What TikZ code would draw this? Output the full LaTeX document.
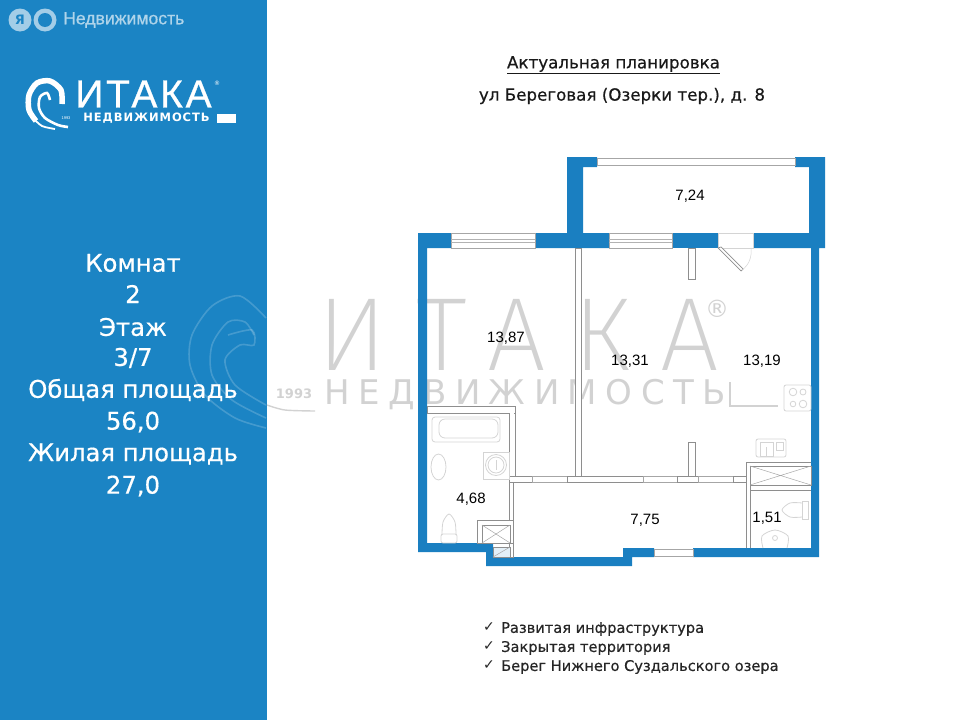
\documentclass[tikz,border=0pt]{standalone}
\usepackage{fontspec}
\setmainfont{DejaVu Sans}
\newfontfamily\numfont{Liberation Sans}
\newfontfamily\wmfont{Fira Sans ExtraLight}
\newfontfamily\headfont[FakeBold=0.5]{DejaVu Sans}
\newfontfamily\logofont[FakeBold=0.7]{Liberation Sans}
\definecolor{panelblue}{HTML}{1B84C4}
\definecolor{wallblue}{HTML}{1A7FC1}
\definecolor{partgray}{HTML}{8E8E8E}
\definecolor{fixgray}{HTML}{D4D4D4}
\definecolor{wmgray}{HTML}{D2D2D2}
\tikzset{
	wall/.style={fill=wallblue, draw=none},
	partition/.style={fill=white, draw=partgray, line width=0.9pt},
	opening/.style={fill=white, draw=gray!70, line width=0.7pt},
	fixture/.style={draw=fixgray, line width=0.8pt},
	info/.style={text=white, font=\headfont\fontsize{24.3}{28}\selectfont, anchor=center},
	area/.style={font=\numfont\fontsize{15}{17}\selectfont, text=black},
	note/.style={font=\headfont\fontsize{14.6}{17}\selectfont, anchor=west, text=black!85},
	mark letter/.style={text=wmgray, font=\wmfont\fontsize{104}{110}\selectfont},
	mark word/.style={text=wmgray, font=\fontsize{34}{38}\selectfont}
}
\begin{document}
\begin{tikzpicture}[x=1pt,y=-1pt]
	\useasboundingbox (0,0) rectangle (960,720);
	\fill [panelblue] (0,0) rectangle (267,720);

	% watermark
	\node [mark letter] (wmi) at (352,335) {И};
	\node [mark letter] (wmt) at (442,335) {Т};
	\node [mark letter] (wma) at (517,335) {А};
	\node [mark letter] (wmk) at (602,335) {К};
	\node [mark letter] (wmb) at (690,335) {А};
	\node [mark word] (wmword) at (525,395) {\addfontfeature{LetterSpace=25}НЕДВИЖИМОСТЬ};
	\draw [wmgray, line width=2.4pt] (730,382) -- (730,406) -- (778,406);
	\node [text=wmgray, font=\fontsize{24}{26}\selectfont] (wmreg) at (717,309) {®};
	\node [text=wmgray, font=\fontsize{13}{15}\selectfont\bfseries] (wmyear) at (294,394) {1993};
	\draw [white, opacity=0.18, line width=1.6pt] plot [smooth] coordinates {(266,318) (240,296) (212,306) (192,335) (190,365) (205,395) (235,418) (266,428)};
	\draw [white, opacity=0.18, line width=1.6pt] plot [smooth] coordinates {(254,335) (245,322) (228,322) (212,345) (212,375) (232,400) (266,418)};
	\draw [white, opacity=0.18, line width=1.6pt] plot [smooth] coordinates {(228,335) (252,330) (254,345) (240,345) (225,360) (235,385) (266,405)};
	\draw [wmgray, line width=1.4pt] plot [smooth] coordinates {(267,405) (285,410) (315,411)};

	% plan walls
	\fill [wall] (567,157) -- (597,157) -- (597,167) -- (583,167) -- (583,233) -- (609,233) -- (609,248) -- (535,248) -- (535,233) -- (567,233) -- cycle;
	\fill [wall] (795,157) -- (825,157) -- (825,248) -- (819,248) -- (819,557) -- (693,557) -- (693,548) -- (811,548) -- (811,248) -- (753,248) -- (753,233) -- (809,233) -- (809,167) -- (795,167) -- cycle;
	\fill [wall] (451,233) -- (451,248) -- (427,248) -- (427,543) -- (493,543) -- (493,557) -- (623,557) -- (623,548) -- (654,548) -- (654,557) -- (632,557) -- (632,566) -- (486,566) -- (486,552) -- (418,552) -- (418,233) -- cycle;
	\fill [wall] (672,233) rectangle (718,248);

	% windows and glazing
	\draw [opening] (597,158) rectangle (795,165);
	\foreach \xa/\xb in {451/535, 609/672} {
		\draw [opening] (\xa,233) rectangle (\xb,248);
		\draw [gray!60, line width=0.5pt] (\xa,239) -- (\xb,239) (\xa,242) -- (\xb,242);
	}
	\draw [opening] (654,549) rectangle (693,556);
	\draw [fixgray] (718,233) rectangle (753,248);

	% door to the balcony
	\draw [partition, line width=0.7pt] (718,248) -- (721,247) -- (743,269) -- (741,271) -- cycle;
	\draw [fixture, line width=0.5pt] (742,270) .. controls (749,265) and (752,257) .. (751,248);

	% partitions
	\draw [partition] (575,248) rectangle (581,476);
	\draw [partition] (688,248) rectangle (695,279);
	\draw [partition] (688,442) rectangle (695,476);
	\draw [partition] (509,406) rectangle (515,476);
	\draw [partition] (427,406) rectangle (515,413);
	\draw [fill=white, draw=none] (428,407) rectangle (514,412);
	\draw [fill=white, draw=none] (510,407) rectangle (514,476);
	\draw [partition] (509,482) rectangle (513,557);
	\draw [partition] (477,520) rectangle (513,543);
	\draw [partition, line width=0.6pt] (482,525) rectangle (510,543);
	\draw [gray!70, line width=0.5pt] (482,525) -- (510,543) (482,543) -- (510,525);
	\draw [partition, fill=wallblue!12, line width=0.6pt] (493,547) rectangle (510,557);
	\draw [gray!70, line width=0.5pt] (493,557) -- (510,547);

	% corridor wall with door gaps
	\draw [partition] (509,476) rectangle (532,482);
	\draw [opening] (532,476) rectangle (567,482);
	\draw [partition] (567,476) rectangle (643,482);
	\draw [opening] (643,476) rectangle (677,482);
	\draw [partition] (677,476) rectangle (698,482);
	\draw [opening] (698,476) rectangle (733,482);
	\draw [partition] (733,476) rectangle (746,482);

	% shaft and small room
	\draw [partition] (746,462) -- (811,462) (746,462) -- (746,548) (750,466) -- (750,548) (750,466) -- (811,466);
	\draw [partition, fill=none, line width=0.6pt] (750,466) rectangle (811,485);
	\draw [gray!70, line width=0.5pt] (750,466) -- (811,485) (750,485) -- (811,466);
	\draw [partgray, line width=0.8pt] (750,490) -- (811,490);

	% bathroom fixtures
	\draw [fixture, rounded corners=3pt] (432,417) rectangle (500,442);
	\draw [fixture, rounded corners=6pt] (439,419) rectangle (498,438);
	\draw [fixture] (438.5,467) ellipse (7.5pt and 13pt);
	\draw [fixture] (483,452) rectangle (509,479);
	\draw [fixture] (496,465) circle (10.5pt);
	\draw [fixture] (496,465) circle (8pt);
	\draw [fixture] (496,460) -- (496,470);
	\draw [fixture] plot [smooth] coordinates {(442,535) (443,522) (449,514) (455,522) (456,535)};
	\draw [fixture, rounded corners=2pt] (441,534) rectangle (457,543);

	% kitchen fixtures
	\draw [fixture, rounded corners=2pt] (784,385) rectangle (811,411);
	\foreach \cx/\cy/\cr in {793/392/3.8, 803/392/3, 793/404/2.8, 803/404/3.8}
		\draw [fixture] (\cx,\cy) circle (\cr pt);
	\draw [fixture, rounded corners=2pt] (756,439) rectangle (786,457);
	\draw [fixture] (760,442) rectangle (773,456);
	\draw [fixture] (776,442) rectangle (783,450);
	\draw [fixture] (766,456) -- (766,447);

	% small room fixtures
	\draw [fixture] plot [smooth] coordinates {(802,503) (790,503) (782,510) (790,517) (802,517)};
	\draw [fixture] (802,501) rectangle (808,519);
	\draw [fixture] plot [smooth] coordinates {(763,548) (762,536) (775,530) (788,536) (787,548)};
	\draw [fixture] (775,538) circle (2.5pt);

	% areas
	\node [area] (balcony) at (690,196.5) {7,24};
	\node [area] (bedroom) at (506,338.5) {13,87};
	\node [area] (living) at (630,361.5) {13,31};
	\node [area] (kitchen) at (762,361.5) {13,19};
	\node [area] (bath) at (471,499.5) {4,68};
	\node [area] (hall) at (645,520.5) {7,75};
	\node [area] (toilet) at (767,518.5) {1,51};

	% headings
	\node [font=\headfont\fontsize{16.7}{20}\selectfont, text=black!90] (title) at (613.5,65) {\underline{Актуальная планировка}};
	\node [font=\headfont\fontsize{16.7}{20}\selectfont, text=black!90] (address) at (622,96) {ул Береговая (Озерки тер.), д. 8};

	% panel figures
	\foreach \txt/\ypos/\nm in {Комнат/263/rooms, 2/294/roomsval, Этаж/327/floor, 3\slash 7/358/floorval, Общая площадь/390/total, {56,0}/422/totalval, Жилая площадь/454/living, {27,0}/486/livingval}
		\node [info] (\nm) at (133,\ypos) {\txt};

	% source mark
	\fill [white, opacity=0.6] (20,20) circle (11.5pt);
	\fill [white, opacity=0.6] (45,20) circle (11.5pt);
	\node [text=panelblue, font=\fontsize{13}{15}\selectfont\bfseries] (yaletter) at (20,20) {Я};
	\fill [panelblue] (45,20) circle (7pt);
	\node [anchor=west, text=white!65!panelblue, inner sep=0pt, font=\logofont\fontsize{17.6}{20}\selectfont] (source) at (63,20) {Недвижимость};

	% company logo
	\draw [white, line width=5.5pt] plot [smooth] coordinates {(62,104) (61,90) (50,81) (37,83) (29,95) (29,110) (36,121)};
	\draw [white, line width=2.6pt] plot [smooth] coordinates {(50,100) (47,93) (40,97) (39,108) (45,118) (58,125) (68,127)};
	\draw [white, line width=1.8pt] plot [smooth] coordinates {(33,118) (42,126) (55,129)};
	\node [text=white, font=\logofont\fontsize{39}{42}\selectfont, inner sep=0pt] (logoname) at (143.5,94) {\addfontfeature{LetterSpace=7}ИТАКА};
	\node [text=white, font=\fontsize{6}{7}\selectfont, inner sep=0pt] (logoreg) at (217,83) {®};
	\node [text=white, font=\fontsize{11.5}{13}\selectfont\bfseries, inner sep=0pt] (logoword) at (146.5,118.5) {\addfontfeature{LetterSpace=8}НЕДВИЖИМОСТЬ};
	\node [text=white, font=\numfont\fontsize{4}{5}\selectfont, inner sep=0pt] (logoyear) at (66,118.5) {1993};
	\fill [white] (217,114) rectangle (236,123);

	% feature list
	\foreach \txt/\ypos/\nm in {Развитая инфраструктура/629/infra, Закрытая территория/648/closed, Берег Нижнего Суздальского озера/667/shore} {
		\node [note, inner sep=0pt] (\nm) at (501,\ypos) {\txt};
		\node [note, inner sep=0pt, font=\fontsize{14}{16}\selectfont] (\nm tick) at (483,\ypos-2) {✓};
	}
\end{tikzpicture}
\end{document}
